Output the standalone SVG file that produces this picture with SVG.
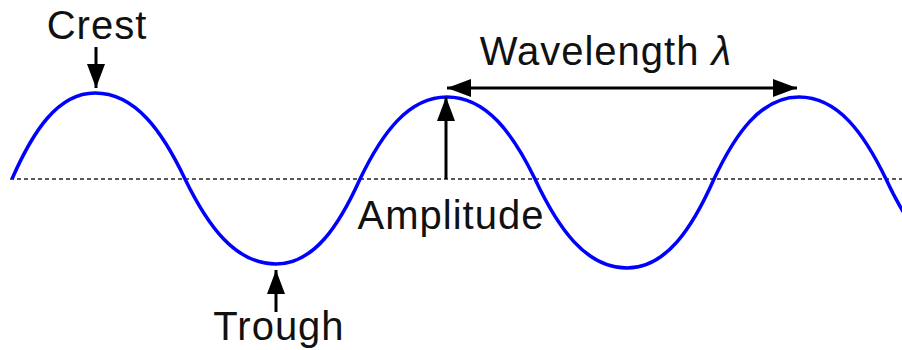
<svg xmlns="http://www.w3.org/2000/svg" width="902" height="350" viewBox="0 0 902 350">
  <style>
    .lbl { font-family: "Liberation Sans", Arial, sans-serif; font-size: 40px; fill: #111; text-anchor: middle; letter-spacing: 1px; }
    .arrow { stroke: #000; stroke-width: 3; fill: none; }
    .wave { stroke: #0000ff; stroke-width: 3.5; fill: none; stroke-linecap: butt; }
    .axis { stroke: #222; stroke-width: 1.3; stroke-dasharray: 4 3; fill: none; }
  </style>
  <defs>
    <marker id="ah" markerUnits="userSpaceOnUse" markerWidth="24" markerHeight="20" viewBox="0 0 24 20" refX="24" refY="10" orient="auto-start-reverse">
      <path d="M0,1 L24,10 L0,19 Z" fill="#000"/>
    </marker>
  </defs>
  <g id="baseline">
    <line class="axis" x1="10" y1="179" x2="902" y2="179"/>
  </g>
  <g id="wave">
    <path class="wave" d="M12,179 C32.75,131.7 57.65,93 95,93 C135.5,93 162.5,131.7 185,179 C207.75,225.75 235.05,264 276,264 C313.8,264 339,225.75 360,179 C381.75,133.9 407.85,97 447,97 C486.6,97 513,133.9 535,179 C558,227.95 585.6,268 627,268 C666.15,268 692.25,227.95 714,179 C735.25,133.9 760.75,97 799,97 C838.15,97 864.25,133.9 886,179 C907.75,225.75 933.85,264 973,264"/>
  </g>
  <g id="connectors">
    <line id="crest-arrow" class="arrow" x1="96" y1="47" x2="96" y2="88" marker-end="url(#ah)"/>
    <line id="amplitude-arrow" class="arrow" x1="446" y1="179" x2="446" y2="97" marker-end="url(#ah)"/>
    <line id="trough-arrow" class="arrow" x1="276" y1="312" x2="276" y2="270" marker-end="url(#ah)"/>
    <line id="wavelength-arrow" class="arrow" x1="447" y1="88" x2="797" y2="88" marker-start="url(#ah)" marker-end="url(#ah)"/>
  </g>
  <g id="crest">
    <text class="lbl" x="97" y="39">Crest</text>
  </g>
  <g id="trough">
    <text class="lbl" x="279" y="340">Trough</text>
  </g>
  <g id="amplitude">
    <text class="lbl" x="451" y="229">Amplitude</text>
  </g>
  <g id="wavelength">
    <text class="lbl" x="606" y="65">Wavelength <tspan font-style="italic">λ</tspan></text>
  </g>
</svg>
